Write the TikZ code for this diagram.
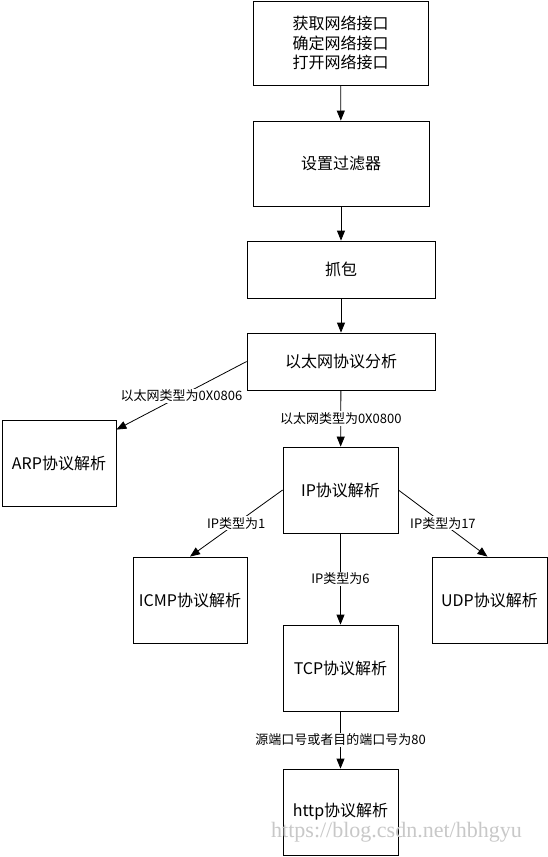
\documentclass[tikz,border=0pt]{standalone}
\usepackage{fontspec}
\setmainfont{Noto Sans CJK SC}
\newfontfamily\wmfont{Liberation Serif}
\usetikzlibrary{arrows.meta}
\definecolor{ink}{HTML}{000000}
\definecolor{wm}{HTML}{C8C8C8}
\tikzset{
  box/.style={draw=ink,fill=white,line width=0.8pt,minimum width=115pt,minimum height=86pt,inner sep=0pt,align=center,font=\fontsize{16}{19.5}\selectfont,text=ink},
  wbox/.style={box,minimum width=188pt,minimum height=57pt},
  flow/.style={-{Triangle[length=10pt,width=8pt]},line width=0.8pt,ink},
  lab/.style={font=\fontsize{13}{15}\selectfont,fill=white,inner sep=1pt,text=ink}
}
\begin{document}
\begin{tikzpicture}[x=1pt,y=-1pt]
\useasboundingbox (0,0) rectangle (548,857);
% ===================== main chain =====================
\node[box,minimum width=175pt,minimum height=84pt] (dev) at (340.5,43) {获取网络接口\\确定网络接口\\打开网络接口};
\node[box,minimum width=176pt,minimum height=85pt] (filt) at (341,163.5) {设置过滤器};
\node[wbox] (cap) at (341,269.5) {抓包};
\node[wbox] (eth) at (341,361.5) {以太网协议分析};
\draw[flow] (dev) -- (filt);
\draw[flow] (filt) -- (cap);
\draw[flow] (cap) -- (eth);
% ===================== layer 3 =====================
\node[box,minimum width=114pt] (arp) at (59,463) {ARP协议解析};
\node[box] (ip) at (340.5,490) {IP协议解析};
\draw[flow] (eth.west) -- ([yshift=-10pt]arp.north east) node[lab,midway] {以太网类型为0X0806};
\draw[flow] (eth) -- (ip) node[lab,midway] {以太网类型为0X0800};
% ===================== layer 4 =====================
\node[box,minimum width=114pt] (icmp) at (190,600) {ICMP协议解析};
\node[box] (udp) at (489.5,600) {UDP协议解析};
\node[box] (tcp) at (340.5,668) {TCP协议解析};
\draw[flow] (ip.west) -- (icmp.north) node[lab,midway] {IP类型为1};
\draw[flow] (ip.east) -- ([xshift=-2pt]udp.north) node[lab,midway] {IP类型为17};
\draw[flow] (ip) -- (tcp) node[lab,midway] {IP类型为6};
% ===================== application =====================
\node[box] (http) at (340.5,812) {http协议解析};
\draw[flow] (tcp) -- (http) node[lab,midway] {源端口号或者目的端口号为80};
\node[font=\wmfont\fontsize{22}{24}\selectfont,text=wm,inner sep=0pt] (mark) at (396.5,832) {https://blog.csdn.net/hbhgyu};
\end{tikzpicture}
\end{document}
